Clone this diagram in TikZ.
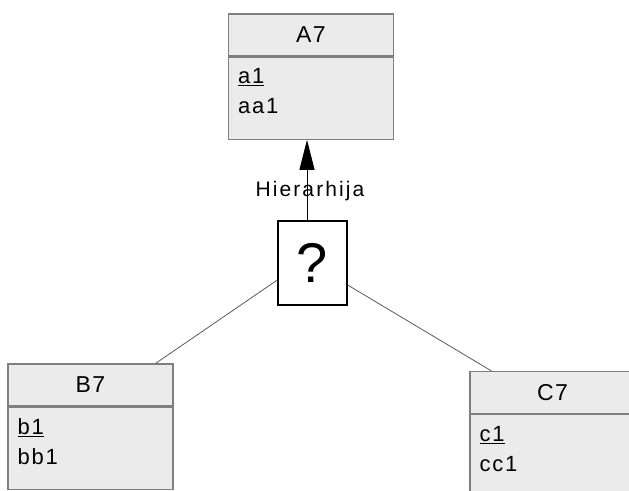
\documentclass[tikz,border=0pt]{standalone}
\usepackage{fontspec}
\setmainfont{Liberation Sans}
\usetikzlibrary{shapes,arrows.meta,positioning}
\definecolor{okvir}{HTML}{7F7F7F}
\definecolor{pozadina}{HTML}{EBEBEB}
\definecolor{veza}{HTML}{5A5A5A}
\tikzset{
  zaglavlje/.style={draw=okvir, fill=pozadina, line width=1.2pt, minimum width=165pt,
    minimum height=42pt, inner sep=0pt,
    font=\fontsize{23}{26}\selectfont\addfontfeature{LetterSpace=6}},
  tijelo/.style={draw=okvir, fill=pozadina, line width=1.2pt, minimum width=165pt,
    minimum height=82pt, inner sep=0pt},
  atribut/.style={anchor=north west, inner sep=0pt, align=left,
    font=\fontsize{22}{30}\selectfont\addfontfeature{LetterSpace=8}},
  upitnik/.style={draw=black, fill=white, line width=1.3pt, minimum width=69pt,
    minimum height=84pt, inner sep=0pt, font=\fontsize{56}{60}\selectfont},
  oznaka/.style={inner sep=0pt, font=\fontsize{21}{24}\selectfont\addfontfeature{LetterSpace=10}},
  strelica/.style={line width=1pt, -{Triangle[length=30pt,width=15pt]}},
  linija/.style={draw=veza, line width=0.8pt}
}
\begin{document}
\begin{tikzpicture}[x=1pt,y=-1pt]
  \useasboundingbox (0,0) rectangle (629,490);
  % entitet A7
  \node[zaglavlje] (A7) at (311,35) {A7};
  \node[tijelo, below=0pt of A7] (A7tijelo) {};
  \node[atribut] (A7atr) at ([xshift=10pt,yshift=-12pt]A7tijelo.north west) {\underline{a1}\\aa1};
  % entitet B7
  \node[zaglavlje] (B7) at (90.5,385) {B7};
  \node[tijelo, below=0pt of B7] (B7tijelo) {};
  \node[atribut] (B7atr) at ([xshift=10pt,yshift=-12pt]B7tijelo.north west) {\underline{b1}\\bb1};
  % entitet C7
  \node[zaglavlje] (C7) at (552.5,392.5) {C7};
  \node[tijelo, below=0pt of C7] (C7tijelo) {};
  \node[atribut] (C7atr) at ([xshift=10pt,yshift=-12pt]C7tijelo.north west) {\underline{c1}\\cc1};
  % hijerarhija
  \node[upitnik] (upit) at (312.5,263) {?};
  \draw[strelica] ([xshift=-5.5pt]upit.north) -- ([xshift=-4pt]A7tijelo.south);
  \node[oznaka] (hijer) at (310,191) {Hierarhija};
  \draw[linija] ([yshift=-17pt]upit.west) -- ([xshift=-18pt]B7.north east);
  \draw[linija] ([yshift=-22pt]upit.east) -- ([xshift=22pt]C7.north west);
\end{tikzpicture}
\end{document}
